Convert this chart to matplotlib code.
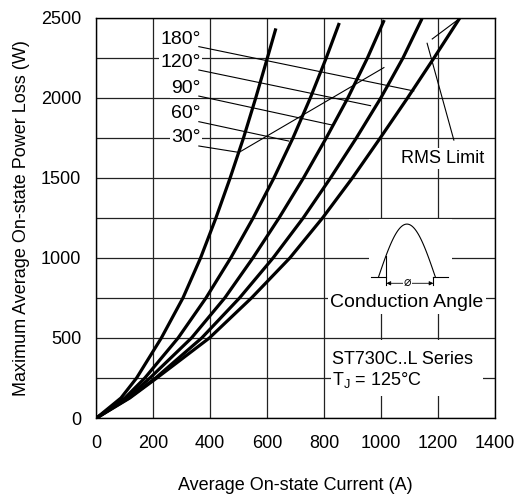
import numpy as np
import matplotlib
matplotlib.use("Agg")
import matplotlib.pyplot as plt
from matplotlib.patches import Rectangle

plt.rcParams['font.family'] = ['Liberation Sans', 'DejaVu Sans']

# power loss levels (W) at which each curve was read
loss = [0, 125, 250, 500, 750, 1000, 1250, 1500, 1750, 2000, 2250]

# average current (A) per conduction angle, last value = end point of the curve
cur_30 = [0, 86, 141, 228, 304, 366, 420, 470, 517, 560, 601, 631]
cur_60 = [0, 100, 170, 287, 385, 472, 551, 624, 691, 752, 808, 854]
cur_90 = [0, 108, 188, 334, 451, 550, 642, 728, 808, 884, 953, 1012]
cur_120 = [0, 114, 208, 370, 503, 621, 727, 823, 914, 1000, 1078, 1145]
cur_180 = [0, 117, 212, 397, 545, 680, 795, 900, 998, 1094, 1187, 1278]
end_loss = [2435, 2469, 2487, 2496, 2500]

angles = ["30°", "60°", "90°", "120°", "180°"]
label_y = [1750, 1906, 2062, 2220, 2365]
# leader lines: start (at label) -> end (on curve)
lead_start = [(360, 1700), (360, 1852), (360, 2012), (360, 2175), (360, 2321)]
lead_end = [(501, 1660), (676, 1731), (829, 1831), (964, 1952), (1116, 2044)]

# RMS limit lines
rms_line = [(506, 1665), (1011, 2190)]
rms_top = [(1181, 2369), (1278, 2498)]
rms_lead = [(1163, 2342), (1257, 1737)]

fig = plt.figure(figsize=(5.26, 4.98), dpi=100)
ax = fig.add_axes([96.5/526, 1-418/498, 398/526, 400/498])

ax.set_xlim(0, 1400)
ax.set_ylim(0, 2500)
ax.set_xticks(np.arange(0, 1401, 200))
ax.set_yticks(np.arange(0, 2501, 500))
ax.set_yticks(np.arange(0, 2501, 250), minor=True)
ax.grid(True, which='both', color='#222222', lw=0.9, zorder=0)
ax.tick_params(which='both', length=0, labelsize=13)
ax.tick_params(axis='x', pad=12)
ax.tick_params(axis='y', pad=11)
for s in ax.spines.values():
    s.set_linewidth(1.0)
ax.set_axisbelow(True)

ax.set_xlabel("Average On-state Current (A)", fontsize=13, labelpad=18)
ax.set_ylabel("Maximum Average On-state Power Loss (W)", fontsize=13, labelpad=8)

# white areas behind the insets
ax.add_patch(Rectangle((957, 660), 295, 585, facecolor='white', edgecolor='none', zorder=1))
ax.add_patch(Rectangle((825, 135), 535, 355, facecolor='white', edgecolor='none', zorder=1))

for cur, pend in zip([cur_30, cur_60, cur_90, cur_120, cur_180], end_loss):
    ax.plot(cur, loss + [pend], color='black', lw=2.3, zorder=4,
            solid_capstyle='butt', solid_joinstyle='round')

for a, y, s, e in zip(angles, label_y, lead_start, lead_end):
    ax.text(366, y, a, ha='right', va='center', fontsize=14, zorder=3,
            bbox=dict(facecolor='white', edgecolor='none', pad=1.0))
    ax.plot([s[0], e[0]], [s[1], e[1]], color='black', lw=0.8, zorder=5)

for seg in [rms_line, rms_top, rms_lead]:
    ax.plot([seg[0][0], seg[1][0]], [seg[0][1], seg[1][1]], color='black', lw=0.8, zorder=5)
ax.text(1216, 1620, "RMS Limit", ha='center', va='center', fontsize=13, zorder=3,
        bbox=dict(facecolor='white', edgecolor='none', pad=1.5))

# conduction angle waveform
wx = np.linspace(992, 1192, 60)
wy = 881 + 331 * np.sin(np.pi * (wx - 992) / 200)
ax.plot(wx, wy, color='black', lw=0.8, zorder=5)
ax.plot([966, 1020], [881, 881], color='black', lw=0.8, zorder=5)
ax.plot([1185, 1238], [881, 881], color='black', lw=0.8, zorder=5)
ax.plot([1020, 1020], [1010, 830], color='black', lw=0.8, zorder=5)
ax.plot([1185, 1185], [881, 830], color='black', lw=0.8, zorder=5)
ax.annotate("", xy=(1020, 842), xytext=(1185, 842),
            arrowprops=dict(arrowstyle='<|-|>', lw=0.6, color='black',
                            mutation_scale=6, shrinkA=0, shrinkB=0), zorder=5)
ax.text(1094, 842, "⌀", ha='center', va='center', fontsize=9, zorder=6,
        bbox=dict(facecolor='white', edgecolor='none', pad=0.5))
ax.text(1092, 719, "Conduction Angle", ha='center', va='center', fontsize=14, zorder=3,
        bbox=dict(facecolor='white', edgecolor='none', pad=1.5))

ax.text(829, 366, "ST730C..L Series", ha='left', va='center', fontsize=13, zorder=3)
ax.text(829, 237, "T$_\\mathregular{J}$ = 125°C", ha='left', va='center', fontsize=13, zorder=3)

fig.savefig("out.png", dpi=100)
